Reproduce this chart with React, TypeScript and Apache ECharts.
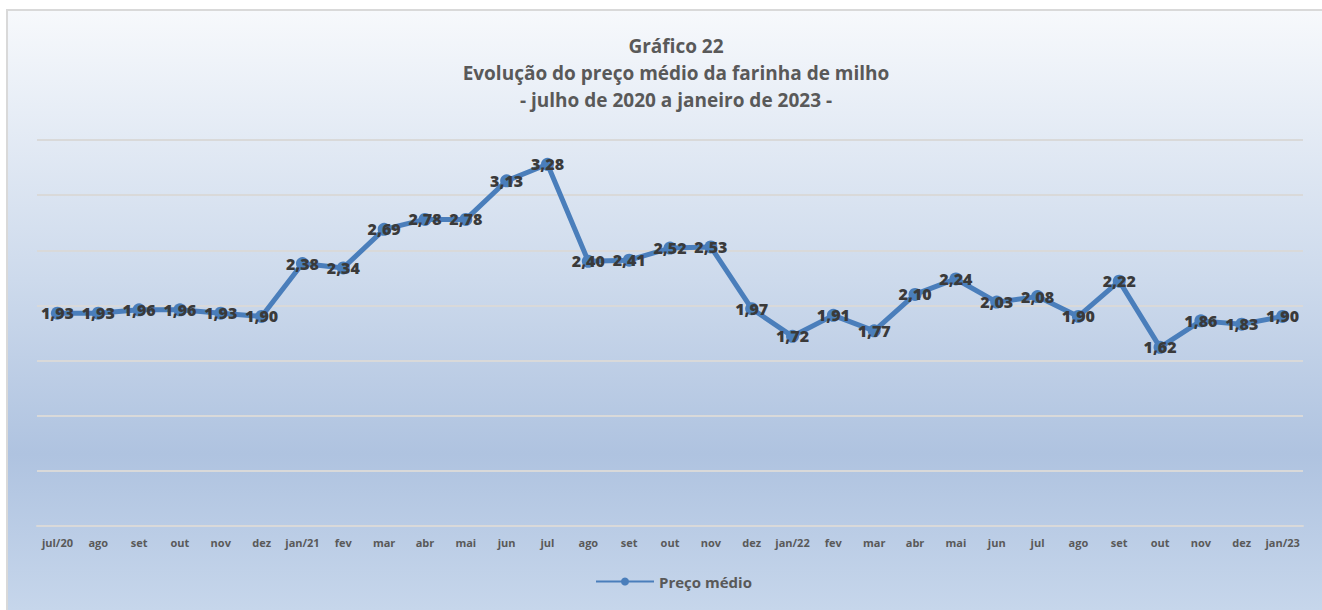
import React, { useEffect, useRef } from "react";
import * as echarts from "echarts";

const categories = [
  "jul/20", "ago", "set", "out", "nov", "dez",
  "jan/21", "fev", "mar", "abr", "mai", "jun", "jul", "ago", "set", "out", "nov", "dez",
  "jan/22", "fev", "mar", "abr", "mai", "jun", "jul", "ago", "set", "out", "nov", "dez",
  "jan/23",
];

const precoMedio = [
  1.93, 1.93, 1.96, 1.96, 1.93, 1.9,
  2.38, 2.34, 2.69, 2.78, 2.78, 3.13, 3.28, 2.4, 2.41, 2.52, 2.53, 1.97,
  1.72, 1.91, 1.77, 2.1, 2.24, 2.03, 2.08, 1.9, 2.22, 1.62, 1.86, 1.83,
  1.9,
];

const titleLines = [
  "Gráfico 22",
  "Evolução do preço médio da farinha de milho",
  "- julho de 2020 a janeiro de 2023 -",
];

const seriesName = "Preço médio";

const FONT = "'Open Sans', 'DejaVu Sans', sans-serif";

export default function App() {
  const ref = useRef<HTMLDivElement>(null);

  useEffect(() => {
    if (!ref.current) return;
    const chart = echarts.init(ref.current, undefined, { renderer: "svg" });
    chart.setOption({
      animation: false,
      graphic: [
        {
          type: "rect",
          z: -100,
          silent: true,
          shape: { x: 6, y: 9, width: 1316, height: 601 },
          style: {
            fill: {
              type: "linear",
              x: 0,
              y: 0,
              x2: 0,
              y2: 1,
              colorStops: [
                { offset: 0, color: "#f7f9fc" },
                { offset: 0.45, color: "#cddaec" },
                { offset: 0.74, color: "#afc3e0" },
                { offset: 1, color: "#c6d6eb" },
              ],
            },
            stroke: null,
          },
        },
        {
          type: "polyline",
          z: -99,
          silent: true,
          shape: { points: [[7, 610], [7, 10], [1322, 10]] },
          style: { stroke: "#d9d9d9", lineWidth: 2, fill: null },
        },
        {
          type: "text",
          x: 676,
          y: 73,
          style: {
            text: titleLines.join("\n"),
            textAlign: "center",
            textVerticalAlign: "middle",
            fill: "#595959",
            font: `bold 19px ${FONT}`,
            lineHeight: 27,
          },
        },
      ],
      grid: { left: 37, right: 19, top: 140, bottom: 84, containLabel: false },
      legend: {
        data: [seriesName],
        left: 590,
        top: 569,
        itemWidth: 58,
        itemHeight: 10,
        textStyle: {
          color: "#595959",
          fontFamily: FONT,
          fontWeight: "bold",
          fontSize: 15,
        },
      },
      xAxis: {
        type: "category",
        data: categories,
        boundaryGap: true,
        axisLine: { show: true, lineStyle: { color: "#d9d9d9", width: 2 } },
        axisTick: { show: false },
        axisLabel: {
          interval: 0,
          margin: 11,
          color: "#595959",
          fontFamily: FONT,
          fontWeight: "bold",
          fontSize: 11,
        },
      },
      yAxis: {
        type: "value",
        min: 0,
        max: 3.5,
        interval: 0.5,
        axisLine: { show: false },
        axisTick: { show: false },
        axisLabel: { show: false },
        splitLine: { show: true, lineStyle: { color: "#d9d9d9", width: 2 } },
      },
      series: [
        {
          name: seriesName,
          type: "line",
          data: precoMedio,
          symbol: "circle",
          symbolSize: 13,
          lineStyle: { color: "#4a7ebb", width: 5 },
          itemStyle: { color: "#4a7ebb" },
          label: {
            show: true,
            position: "inside",
            color: "#3a3a3a",
            fontFamily: FONT,
            fontWeight: 800,
            fontSize: 16,
            formatter: (p: any) => Number(p.value).toFixed(2).replace(".", ","),
          },
        },
      ],
    });
    return () => chart.dispose();
  }, []);

  return (
    <div
      ref={ref}
      style={{ position: "absolute", left: 0, top: 0, width: 1322, height: 610, background: "#ffffff" }}
    />
  );
}
